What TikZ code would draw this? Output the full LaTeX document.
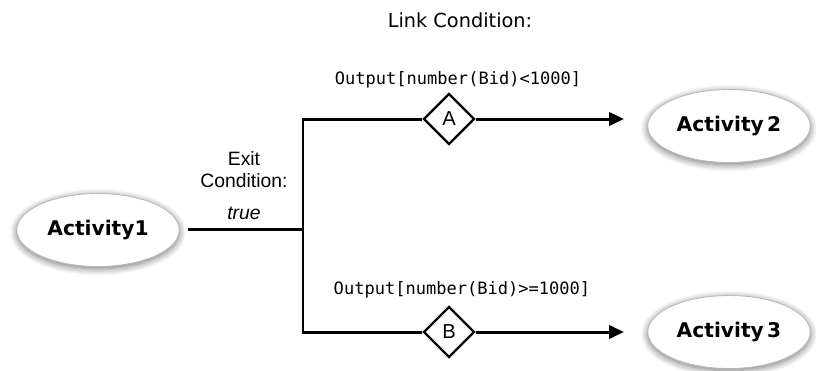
\documentclass[tikz,border=0pt]{standalone}
\usepackage{fontspec}
\setmainfont{Liberation Sans}
\setmonofont{DejaVu Sans Mono}
\newfontfamily\actfont{DejaVu Sans}
\usepackage{tikz}
\usetikzlibrary{arrows.meta, shapes.geometric, shadows.blur}

\tikzset{
  activity/.style={ellipse, draw=gray!55, line width=0.5pt, fill=white,
    minimum width=3.25cm, minimum height=1.46cm, inner sep=0pt,
    font=\actfont\bfseries\fontsize{11.5}{13}\selectfont,
    blur shadow={shadow xshift=0pt, shadow yshift=-1.2pt, shadow blur radius=4pt, shadow blur steps=8, shadow opacity=55}},
  gate/.style={diamond, draw, line width=1.3pt, fill=white, aspect=1,
    minimum width=1.02cm, minimum height=1.02cm, inner sep=0pt,
    font=\fontsize{11.5}{13}\selectfont},
  flow/.style={line width=1.7pt},
  cond/.style={font=\ttfamily\fontsize{9.7}{11}\selectfont}
}

\begin{document}
\begin{tikzpicture}[x=0.02cm, y=-0.02cm]
    \useasboundingbox (0, 0) rectangle (816, 370);

    \node[activity] (act1) at (98, 230) {Activity1};
    \node[activity] (act2) at (729, 126) {Activity\,2};
    \node[activity] (act3) at (729, 332) {Activity\,3};

    \coordinate (J) at (303, 229);
    \coordinate (JA) at (303, 119);
    \coordinate (JB) at (303, 332);
    \coordinate (EA) at (624, 119);
    \coordinate (EB) at (624, 332);

    \node[gate] (gA) at (449, 119) {A};
    \node[gate] (gB) at (449, 332) {B};

    \draw[flow, shorten <=0.16cm] (act1.east |- J) -- (J);
    \draw[flow, line cap=rect] (JA) -- (JB);
    \draw[flow] (JA) -- (gA.west);
    \draw[flow] (JB) -- (gB.west);
    \draw[flow, -{Triangle[length=8.5pt, width=7.5pt]}] (gA.east) -- (EA);
    \draw[flow, -{Triangle[length=8.5pt, width=7.5pt]}] (gB.east) -- (EB);

    \node[font=\actfont\fontsize{11}{13}\selectfont] (link) at (460, 20) {Link Condition:};
    \node[cond] (condA) at (458, 80) {Output[number(Bid)<1000]};
    \node[cond] (condB) at (462, 290) {Output[number(Bid)>=1000]};
    \node[align=center, font=\fontsize{11}{12.5}\selectfont] (exit) at (244, 170) {Exit\\Condition:};
    \node[font=\itshape\fontsize{11}{13}\selectfont] (true) at (244, 213) {true};
  \end{tikzpicture}
\end{document}
